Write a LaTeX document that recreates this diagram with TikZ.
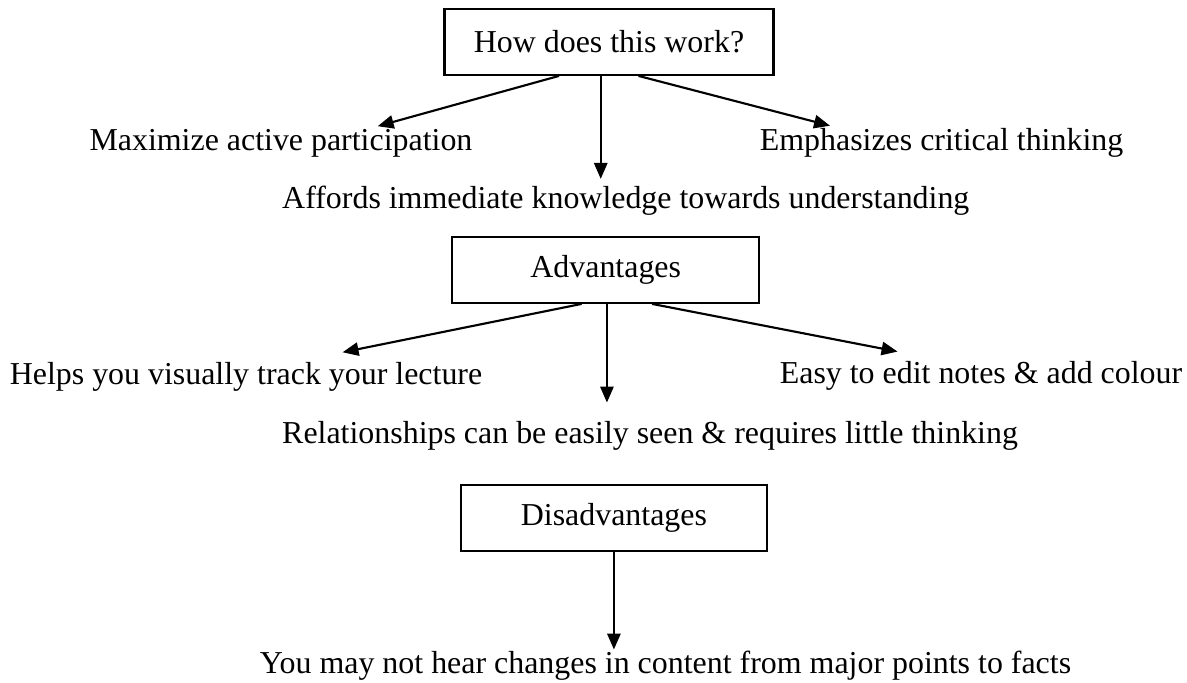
\documentclass[tikz,border=0pt]{standalone}
\usepackage{fontspec}
\setmainfont{Liberation Serif}
\usepackage{tikz}
\usetikzlibrary{arrows.meta,calc}
\tikzset{
    headbox/.style={rectangle,draw=black,line width=0.8pt,minimum height=24.7pt,inner sep=0pt,align=center},
    point/.style={inner xsep=0pt,inner ysep=0pt,anchor=base west},
    arrow/.style={-{Triangle[length=6pt,width=5pt]},line width=0.8pt}
}

\begin{document}
\begin{tikzpicture}[x=0.376pt,y=-0.376pt,font=\fontsize{12}{14}\selectfont]
  \useasboundingbox (0,0) rectangle (1187,682);

  % Heading boxes
  \node[headbox,minimum width=123.7pt] (how) at (609,42) {How does this work?};
  \node[headbox,minimum width=115.4pt] (adv) at (605.7,270) {Advantages};
  \node[headbox,minimum width=115.2pt] (dis) at (613.9,517.9) {Disadvantages};

  % Points under the first box
  \node[point] (maxi) at (89,150) {Maximize active participation};
  \node[point] (emph) at (759.3,150) {Emphasizes critical thinking};
  \node[point] (afford) at (281.7,208) {Affords immediate knowledge towards understanding};

  % Points under the advantages
  \node[point] (track) at (9.3,384) {Helps you visually track your lecture};
  \node[point] (edit) at (779.3,383.3) {Easy to edit notes \& add colour};
  \node[point] (relate) at (281.7,443.3) {Relationships can be easily seen \& requires little thinking};

  % Point under the disadvantages
  \node[point] (hear) at (259.3,673.3) {You may not hear changes in content from major points to facts};

  % Arrows from the first box
  \coordinate (howmid) at ($(how.south west)!0.475!(how.south east)$);
  \draw[arrow] ($(how.south west)!0.349!(how.south east)$) -- ($(maxi.north west)!0.752!(maxi.north east)+(0,0.8pt)$);
  \draw[arrow] (howmid) -- ($(howmid |- afford.north)+(0,2.3pt)$);
  \draw[arrow] ($(how.south west)!0.589!(how.south east)$) -- ($(emph.north west)!0.194!(emph.north east)+(0,0.6pt)$);

  % Arrows from the advantages
  \coordinate (advmid) at ($(adv.south west)!0.504!(adv.south east)$);
  \draw[arrow] ($(adv.south west)!0.422!(adv.south east)$) -- ($(track.north west)!0.704!(track.north east)+(0,3.4pt)$);
  \draw[arrow] (advmid) -- ($(advmid |- relate.north)+(0,6.8pt)$);
  \draw[arrow] ($(adv.south west)!0.650!(adv.south east)$) -- ($(edit.north west)!0.293!(edit.north east)+(0,3.4pt)$);

  % Arrow from the disadvantages
  \draw[arrow] (dis.south) -- ($(dis.south |- hear.north)+(0,0.3pt)$);
\end{tikzpicture}
\end{document}
